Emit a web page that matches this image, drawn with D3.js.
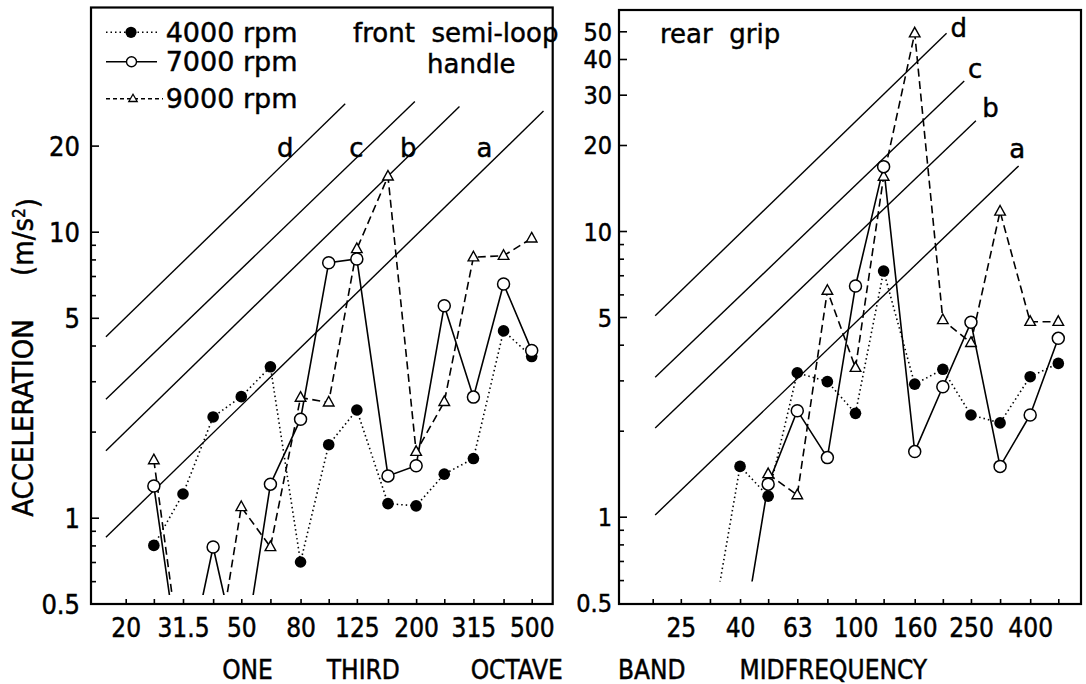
<!DOCTYPE html>
<html><head><meta charset="utf-8">
<script src="https://cdn.jsdelivr.net/npm/d3@7"></script>
<style>body{margin:0;background:#fff}svg{display:block}text{stroke:#000;stroke-width:0.45px;fill:#000}</style>
</head><body><svg id="c" width="1086" height="684"></svg>
<script>
// ---- data ----
const bands = [20,25,31.5,40,50,63,80,100,125,160,200,250,315,400,500];
const frontTickLabels = ["20","31.5","50","80","125","200","315","500"];
const rearTickLabels = ["25","40","63","100","160","250","400"];
const frontYLabels = [0.5,1,5,10,20];
const rearYLabels = [0.5,1,5,10,20,30,40,50];
const minorY = [0.6,0.7,0.8,0.9,2,3,4,6,7,8,9];
const seriesNames = ["4000 rpm","7000 rpm","9000 rpm"];
// front semi-loop handle (values per band, null = not measured)
const front4000 = [null,0.80,1.21,2.25,2.65,3.37,0.70,1.80,2.38,1.12,1.10,1.42,1.61,4.50,3.66];
const front7000 = [null,1.29,0.25,0.79,0.29,1.31,2.21,7.79,8.03,1.40,1.52,5.51,2.64,6.56,3.84];
const front9000 = [null,1.59,0.28,0.27,1.09,0.79,2.63,2.53,8.70,15.6,1.70,2.54,8.14,8.24,9.48];
// rear grip
const rear4000 = [null,null,0.37,1.50,1.18,3.19,2.97,2.30,7.24,2.91,3.28,2.27,2.13,3.09,3.44];
const rear7000 = [null,null,null,0.33,1.30,2.35,1.61,6.42,16.8,1.69,2.85,4.79,1.50,2.27,4.21];
const rear9000 = [null,null,null,null,1.41,1.19,6.18,3.32,15.5,49.2,4.88,4.06,11.7,4.81,4.81];
// reference lines (acceleration proportional to frequency): [f start, f end], [a start, a end]
const refNames = ["a","b","c","d"];
const frontRefF = [[17.1,549],[17.1,282],[17.1,198],[17.1,114]];
const frontRefV = [[0.854,26.4],[1.715,27.4],[2.594,28.5],[4.29,28.0]];
const frontRefLabelF = [344,188,124.5,70.8];
const frontRefLabelV = [18.3,18.3,18.3,18.3];
const rearRefF = [[20.4,365],[20.4,260],[20.4,237],[20.4,206]];
const rearRefV = [[1.014,16.9],[2.044,24.3],[3.075,33.5],[5.05,49.2]];
const rearRefLabelF = [361,292,258.5,227];
const rearRefLabelV = [18.0,25.1,34.2,47.9];
// ---- layout ----
const svg = d3.select("#c");
svg.append("rect").attr("width",1086).attr("height",684).attr("fill","#fff");
const FONT = "'DejaVu Sans', sans-serif";
const CFONT = "'DejaVu Sans Condensed', 'DejaVu Sans', sans-serif";

const panels = [
  {id:"front", x0:91, x1:552.7, y0:7.5, y1:604, xr:[125.7,531.7], yr:[517.7,231.7],
   tickLabels:frontTickLabels, yLabels:frontYLabels, labelPad:11, floor:0.537, ySize:27,
   s4:front4000, s7:front7000, s9:front9000,
   refF:frontRefF, refV:frontRefV, labF:frontRefLabelF, labV:frontRefLabelV},
  {id:"rear", x0:619, x1:1081, y0:10, y1:604, xr:[652.7,1058.3], yr:[516.7,231],
   tickLabels:rearTickLabels, yLabels:rearYLabels, labelPad:7, floor:0.593, ySize:25,
   s4:rear4000, s7:rear7000, s9:rear9000,
   refF:rearRefF, refV:rearRefV, labF:rearRefLabelF, labV:rearRefLabelV}
];

function triPath(g){ return g.attr("d","M0,-6L5.3,3.6L-5.3,3.6Z"); }

panels.forEach(p=>{
  const x = d3.scaleLog().domain([20,500]).range(p.xr);
  const y = d3.scaleLog().domain([1,10]).range(p.yr);
  const g = svg.append("g");
  const clipId = "clip-"+p.id;
  svg.append("clipPath").attr("id",clipId).append("rect")
    .attr("x",p.x0).attr("y",p.y0).attr("width",p.x1-p.x0).attr("height",y(p.floor)-p.y0);
  const clipAll = "clipall-"+p.id;
  svg.append("clipPath").attr("id",clipAll).append("rect")
    .attr("x",p.x0).attr("y",p.y0).attr("width",p.x1-p.x0).attr("height",p.y1-p.y0);

  // x axis
  const xa = g.append("g").attr("transform",`translate(0,${p.y1})`)
    .call(d3.axisBottom(x).tickValues(bands).tickSize(-5)
      .tickFormat(d=>p.tickLabels.includes(String(d))?String(d):""));
  xa.select(".domain").remove();
  xa.selectAll("line").attr("stroke","#000").attr("stroke-width",1.6);
  xa.selectAll("text").attr("y",33).attr("dy",0).attr("fill","#000")
    .style("font-family",CFONT).style("font-size","26px");

  // y axis minor
  const ym = g.append("g").attr("transform",`translate(${p.x0},0)`)
    .call(d3.axisLeft(y).tickValues(minorY).tickSize(-5).tickFormat(""));
  ym.select(".domain").remove();
  ym.selectAll("line").attr("stroke","#000").attr("stroke-width",1.6);
  // y axis major
  const yM = g.append("g").attr("transform",`translate(${p.x0},0)`)
    .call(d3.axisLeft(y).tickValues(p.yLabels).tickSize(-8).tickPadding(p.labelPad)
      .tickFormat(d=>String(d)));
  yM.select(".domain").remove();
  yM.selectAll("line").attr("stroke","#000").attr("stroke-width",1.6);
  yM.selectAll("text").attr("fill","#000").attr("dy","0.36em")
    .style("font-family",CFONT).style("font-size",p.ySize+"px");
  yM.selectAll(".tick").filter(d=>d===0.5).select("line").remove();

  // frame
  g.append("rect").attr("x",p.x0).attr("y",p.y0).attr("width",p.x1-p.x0).attr("height",p.y1-p.y0)
    .attr("fill","none").attr("stroke","#000").attr("stroke-width",2.2);

  // reference lines
  const rl = d3.line().x(d=>x(d[0])).y(d=>y(d[1]));
  refNames.forEach((n,i)=>{
    g.append("path").attr("d",rl([[p.refF[i][0],p.refV[i][0]],[p.refF[i][1],p.refV[i][1]]]))
      .attr("fill","none").attr("stroke","#000").attr("stroke-width",1.4);
    g.append("text").attr("x",x(p.labF[i])).attr("y",y(p.labV[i])).attr("text-anchor","middle")
      .style("font-family",FONT).style("font-size","26px").text(n);
  });

  // data
  const line = d3.line().defined(d=>d[1]!=null).x(d=>x(d[0])).y(d=>y(d[1]));
  const styles = [
    {data:p.s4, dash:"1.5,3"},
    {data:p.s7, dash:null},
    {data:p.s9, dash:"8,4.5"}
  ];
  styles.forEach(s=>{
    const pts = bands.map((b,i)=>[b,s.data[i]]);
    g.append("path").attr("d",line(pts)).attr("clip-path",`url(#${clipId})`)
      .attr("fill","none").attr("stroke","#000").attr("stroke-width",1.6)
      .attr("stroke-dasharray",s.dash);
  });
  const mk = g.append("g").attr("clip-path",`url(#${clipAll})`);
  bands.forEach((b,i)=>{
    const v=p.s9[i]; if(v==null||v<0.5) return;
    mk.append("path").call(triPath).attr("transform",`translate(${x(b)},${y(v)})`)
      .attr("fill","#fff").attr("stroke","#000").attr("stroke-width",1.4);
  });
  bands.forEach((b,i)=>{
    const v=p.s4[i]; if(v==null||v<0.5) return;
    mk.append("circle").attr("cx",x(b)).attr("cy",y(v)).attr("r",5.8).attr("fill","#000");
  });
  bands.forEach((b,i)=>{
    const v=p.s7[i]; if(v==null||v<0.5) return;
    mk.append("circle").attr("cx",x(b)).attr("cy",y(v)).attr("r",6).attr("fill","#fff")
      .attr("stroke","#000").attr("stroke-width",1.5);
  });
});

// legend (left panel)
const lg = svg.append("g");
const legY = [32.3,61.7,98.7];
const legDash = ["1.5,3",null,"4,3"];
seriesNames.forEach((n,i)=>{
  lg.append("line").attr("x1",106).attr("x2",i===2?163:157).attr("y1",legY[i]).attr("y2",legY[i])
    .attr("stroke","#000").attr("stroke-width",1.4).attr("stroke-dasharray",legDash[i]);
  if(i===0) lg.append("circle").attr("cx",131).attr("cy",legY[i]).attr("r",5.6).attr("fill","#000");
  if(i===1) lg.append("circle").attr("cx",131.5).attr("cy",legY[i]).attr("r",5).attr("fill","#fff").attr("stroke","#000").attr("stroke-width",1.4);
  if(i===2) lg.append("path").attr("d","M0,-4.5L4.2,2.8L-4.2,2.8Z").attr("transform",`translate(133,${legY[i]})`)
    .attr("fill","#fff").attr("stroke","#000").attr("stroke-width",1.3);
  lg.append("text").attr("x",165.7).attr("y",legY[i]+9.6).style("font-family",FONT).style("font-size","27px").text(n);
});
svg.append("text").attr("x",353).attr("y",41.7).style("font-family",FONT).style("font-size","26px")
  .attr("xml:space","preserve").text("front  semi-loop");
svg.append("text").attr("x",427).attr("y",72.7).style("font-family",FONT).style("font-size","26px").text("handle");
svg.append("text").attr("x",660).attr("y",43.3).style("font-family",FONT).style("font-size","26px")
  .attr("xml:space","preserve").text("rear  grip");

// axis titles
const xt = [["ONE",247.5],["THIRD",363.3],["OCTAVE",516.7],["BAND",651.7],["MIDFREQUENCY",833.3]];
xt.forEach(t=>svg.append("text").attr("x",t[1]).attr("y",679).attr("text-anchor","middle")
  .style("font-family",CFONT).style("font-size","26px").text(t[0]));
svg.append("text").attr("transform","translate(33,418) rotate(-90)").attr("text-anchor","middle")
  .style("font-family",CFONT).style("font-size","29px").text("ACCELERATION");
const ut = svg.append("text").attr("transform","translate(33,237) rotate(-90)").attr("text-anchor","middle")
  .style("font-family",CFONT).style("font-size","29px");
ut.append("tspan").text("(m/s");
ut.append("tspan").attr("dy","-0.45em").style("font-size","17px").text("2");
ut.append("tspan").attr("dy","0.45em").text(")");
</script></body></html>
